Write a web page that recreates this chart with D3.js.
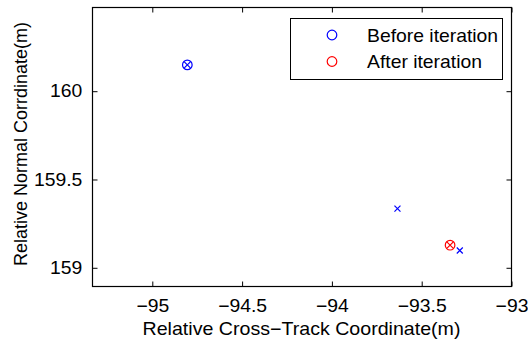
<!DOCTYPE html>
<html><head><meta charset="utf-8">
<script src="https://cdn.jsdelivr.net/npm/d3@7"></script>
<style>
html,body{margin:0;padding:0;background:#fff;}
svg{display:block;font-family:"Liberation Sans",Arial,sans-serif;}
</style></head>
<body><svg id="c" width="528" height="345"></svg>
<script>
// Data
const xDomain = [-95.333, -93.0];
const yDomain = [158.894, 160.474];
const xTicks = [-95, -94.5, -94, -93.5, -93];
const yTicks = [159, 159.5, 160];
const seriesNames = ["Before iteration", "After iteration"];
const seriesColors = ["#0000ff", "#ff0000"];
const beforeX = [-94.805];
const beforeY = [160.149];
const afterX = [-93.342];
const afterY = [159.128];
const blueCrossX = [-94.805, -93.635, -93.288];
const blueCrossY = [160.149, 159.335, 159.098];
const redCrossX = [-93.342];
const redCrossY = [159.128];

const svg = d3.select("#c");
const L = 92.5, R = 511.5, T = 7.5, B = 286.5;
const SX = 1.075; // horizontal stretch of text
const x = d3.scaleLinear().domain(xDomain).range([L, R]);
const y = d3.scaleLinear().domain(yDomain).range([B, T]);
const fmt = d => (d < 0 ? "\u2212" : "") + Math.abs(d);

svg.append("rect").attr("x", L).attr("y", T).attr("width", R - L).attr("height", B - T)
  .attr("fill", "#fff");

// axes with inward ticks
const tl = 5;
const gx = svg.append("g").attr("transform", `translate(0,${B})`)
  .call(d3.axisBottom(x).tickValues(xTicks).tickSizeInner(-tl).tickSizeOuter(0).tickPadding(13).tickFormat(fmt));
const gxt = svg.append("g").attr("transform", `translate(0,${T})`)
  .call(d3.axisTop(x).tickValues(xTicks).tickSizeInner(-tl).tickSizeOuter(0).tickFormat(""));
const gy = svg.append("g").attr("transform", `translate(${L},0)`)
  .call(d3.axisLeft(y).tickValues(yTicks).tickSizeInner(-tl).tickSizeOuter(0).tickPadding(9.5).tickFormat(fmt));
const gyr = svg.append("g").attr("transform", `translate(${R},0)`)
  .call(d3.axisRight(y).tickValues(yTicks).tickSizeInner(-tl).tickSizeOuter(0).tickFormat(""));
[gx, gxt, gy, gyr].forEach(g => {
  g.select(".domain").remove();
  g.selectAll("line").attr("stroke", "#000");
  g.selectAll("text").attr("fill", "#000").attr("font-size", 18)
    .attr("font-family", "'Liberation Sans',Arial,sans-serif")
    .attr("transform", `scale(${SX},1)`);
});
svg.append("rect").attr("x", L).attr("y", T).attr("width", R - L).attr("height", B - T)
  .attr("fill", "none").attr("stroke", "#000").attr("stroke-width", 1.2);

// markers
function cross(g, cx, cy, s, color) {
  g.append("path").attr("d", `M${cx - s},${cy - s}L${cx + s},${cy + s}M${cx - s},${cy + s}L${cx + s},${cy - s}`)
    .attr("stroke", color).attr("stroke-width", 1.2).attr("fill", "none");
}
const pts = svg.append("g");
beforeX.forEach((d, i) => pts.append("circle").attr("cx", x(d)).attr("cy", y(beforeY[i])).attr("r", 4.8)
  .attr("fill", "none").attr("stroke", seriesColors[0]).attr("stroke-width", 1.2));
afterX.forEach((d, i) => pts.append("circle").attr("cx", x(d)).attr("cy", y(afterY[i])).attr("r", 4.8)
  .attr("fill", "none").attr("stroke", seriesColors[1]).attr("stroke-width", 1.2));
blueCrossX.forEach((d, i) => cross(pts, x(d), y(blueCrossY[i]), 3, "#0000ff"));
redCrossX.forEach((d, i) => cross(pts, x(d), y(redCrossY[i]), 3, "#ff0000"));

// axis labels
svg.append("text").attr("transform", `translate(${(L + R) / 2 - 0.5},335) scale(1.09,1)`).attr("text-anchor", "middle")
  .attr("font-size", 18).text("Relative Cross\u2212Track Coordinate(m)");
svg.append("text").attr("transform", `translate(27,${(T + B) / 2 - 3}) rotate(-90)`).attr("text-anchor", "middle")
  .attr("font-size", 18).text("Relative Normal Corrdinate(m)");

// legend
const lg = svg.append("g");
lg.append("rect").attr("x", 290.5).attr("y", 18.5).attr("width", 212).attr("height", 61)
  .attr("fill", "#fff").attr("stroke", "#000").attr("stroke-width", 1);
seriesNames.forEach((n, i) => {
  const cy = 35 + i * 26.5;
  lg.append("circle").attr("cx", 332).attr("cy", cy).attr("r", 4.8).attr("fill", "none")
    .attr("stroke", seriesColors[i]).attr("stroke-width", 1.2);
  lg.append("text").attr("transform", `translate(367,${cy + 6.5}) scale(${SX},1)`).attr("font-size", 18).text(n);
});
</script></body></html>
